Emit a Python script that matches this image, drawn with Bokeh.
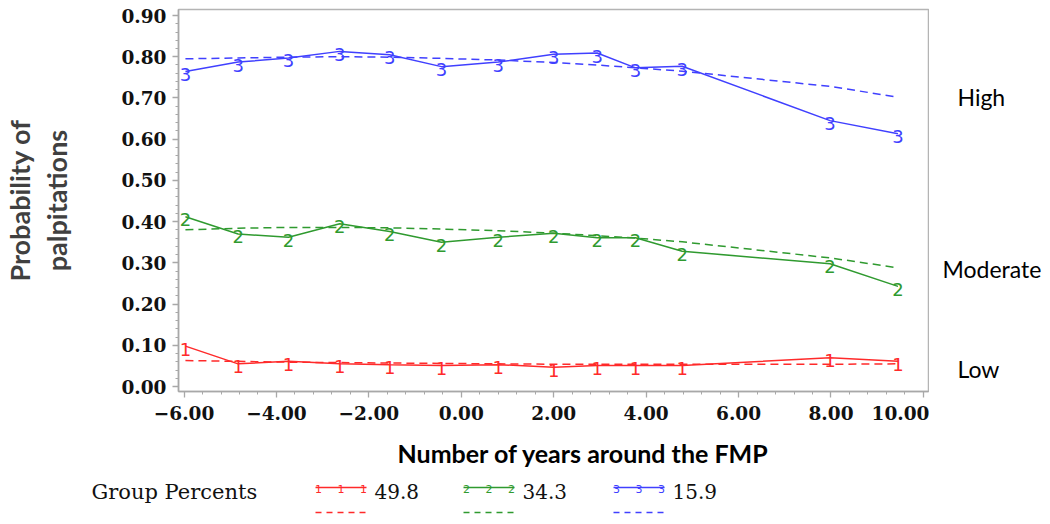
import numpy as np
from bokeh.plotting import figure
from bokeh.models import Range1d, FixedTicker, ColumnDataSource
from bokeh.layouts import column, row
from bokeh.embed import file_html
from bokeh.resources import INLINE
from bokeh.core.properties import value

# ---------------- data ----------------
x_years = [-5.97, -4.83, -3.74, -2.63, -1.55, -0.43, 0.80, 2.00, 2.94, 3.77, 4.78, 7.98, 9.45]

low_obs = [0.098, 0.055, 0.061, 0.055, 0.053, 0.051, 0.053, 0.047, 0.051, 0.051, 0.051, 0.070, 0.061]
low_fit = [0.063, 0.061, 0.059, 0.058, 0.057, 0.056, 0.055, 0.054, 0.054, 0.054, 0.054, 0.054, 0.055]

mod_obs = [0.412, 0.370, 0.362, 0.395, 0.376, 0.350, 0.362, 0.372, 0.361, 0.361, 0.328, 0.298, 0.243]
mod_fit = [0.380, 0.384, 0.386, 0.386, 0.385, 0.382, 0.378, 0.372, 0.366, 0.360, 0.351, 0.312, 0.288]

high_obs = [0.764, 0.787, 0.797, 0.813, 0.805, 0.776, 0.787, 0.806, 0.809, 0.773, 0.777, 0.645, 0.613]
high_fit = [0.795, 0.797, 0.799, 0.800, 0.799, 0.796, 0.792, 0.786, 0.780, 0.773, 0.765, 0.728, 0.702]

group_names = ["Low", "Moderate", "High"]
group_digits = ["1", "2", "3"]
group_percents = ["49.8", "34.3", "15.9"]
group_label_y = [0.042, 0.284, 0.703]
group_colors = ["#ff2a2a", "#2f9a2f", "#4040ff"]

x_ticks = [-6.0, -4.0, -2.0, 0.0, 2.0, 4.0, 6.0, 8.0, 10.0]
x_tick_labels = ["\u22126.00", "\u22124.00", "\u22122.00", "0.00", "2.00", "4.00", "6.00", "8.00", "10.00"]
y_ticks = [0.0, 0.1, 0.2, 0.3, 0.4, 0.5, 0.6, 0.7, 0.8, 0.9]
y_tick_labels = ["0.00", "0.10", "0.20", "0.30", "0.40", "0.50", "0.60", "0.70", "0.80", "0.90"]

x_title = "Number of years around the FMP"
y_title = "Probability of\npalpitations"
legend_title = "Group Percents"

obs_series = [low_obs, mod_obs, high_obs]
fit_series = [low_fit, mod_fit, high_fit]


def no_align(fig):
    try:
        fig.frame_align = False
    except Exception:
        pass


y_rng = Range1d(-0.0121, 0.9146)

# ---------------- main figure ----------------
p = figure(width=929, height=430,
           x_range=Range1d(-6.12, 10.11), y_range=y_rng,
           output_backend="svg", toolbar_location=None,
           min_border_left=178, min_border_right=1,
           min_border_top=9, min_border_bottom=39)
no_align(p)
p.grid.visible = False
p.outline_line_color = "#b4b4b4"
p.outline_line_width = 1.5

x_minor = [round(v, 2) for v in np.arange(-6.0, 10.001, 0.4)]
y_minor = [round(v, 3) for v in np.arange(0.0, 0.9001, 0.02)]
p.xaxis.ticker = FixedTicker(ticks=x_ticks, minor_ticks=x_minor)
p.yaxis.ticker = FixedTicker(ticks=y_ticks, minor_ticks=y_minor)
p.xaxis.major_label_overrides = {t: l for t, l in zip(x_ticks, x_tick_labels)}
p.yaxis.major_label_overrides = {t: l for t, l in zip(y_ticks, y_tick_labels)}

for ax in (p.xaxis, p.yaxis):
    ax.axis_line_color = "#a8a8a8"
    ax.axis_line_width = 1.5
    ax.major_tick_line_color = "#a8a8a8"
    ax.minor_tick_line_color = "#a8a8a8"
    ax.major_tick_line_width = 1.3
    ax.minor_tick_line_width = 1.0
    ax.major_tick_out = 6
    ax.major_tick_in = 0
    ax.minor_tick_out = 3
    ax.minor_tick_in = 0
    ax.major_label_text_font = "DejaVu Serif"
    ax.major_label_text_font_style = "bold"
    ax.major_label_text_font_size = "18.5px"
    ax.major_label_text_color = "#111111"

p.xaxis.major_label_standoff = 8
p.yaxis.major_label_standoff = 6

p.yaxis.axis_label = y_title
p.yaxis.axis_label_text_font = "Lato"
p.yaxis.axis_label_text_font_style = "bold"
p.yaxis.axis_label_text_font_size = "27px"
p.yaxis.axis_label_text_color = "#404040"
p.yaxis.axis_label_text_line_height = 1.13
p.yaxis.axis_label_standoff = 45

for obs, fit, col, dig in zip(obs_series, fit_series, group_colors, group_digits):
    src = ColumnDataSource(dict(x=x_years, obs=obs, fit=fit, t=[dig] * len(x_years)))
    p.line("x", "fit", source=src, line_color=col, line_width=1.5, line_dash="8 5")
    p.line("x", "obs", source=src, line_color=col, line_width=1.5)
    p.text("x", "obs", text="t", source=src, text_color=col,
           text_font=value("DejaVu Sans"), text_font_size="18px",
           text_align="center", text_baseline="middle", y_offset=3)

# ---------------- right-hand group names ----------------
side = figure(width=121, height=430, x_range=Range1d(0, 121), y_range=y_rng,
              output_backend="svg", toolbar_location=None,
              x_axis_location=None, y_axis_location=None,
              min_border_left=0, min_border_right=0,
              min_border_top=9, min_border_bottom=39)
no_align(side)
side.grid.visible = False
side.outline_line_color = None
name_x = [28, 13, 28]
side.text(x=name_x, y=group_label_y, text=group_names, text_font=value("Lato"),
          text_font_size="23px", text_color="#000000",
          text_align="left", text_baseline="middle")

# ---------------- bottom strip: x title + legend ----------------
lg = figure(width=1050, height=94, x_range=Range1d(0, 1050), y_range=Range1d(94, 0),
            output_backend="svg", toolbar_location=None,
            x_axis_location=None, y_axis_location=None, min_border=0)
no_align(lg)
lg.grid.visible = False
lg.outline_line_color = None

lg.text(x=[397], y=[22], text=[x_title], text_font=value("Lato"), text_font_style="bold",
        text_font_size="25px", text_color="#000000", text_baseline="middle", text_align="left")

lg.text(x=[91], y=[61], text=[legend_title], text_font=value("DejaVu Serif"),
        text_font_size="21px", text_color="#111111", text_baseline="middle", text_align="left")

item_x0 = [315, 463, 613]
seg = 51
for x0, col, dig, pct in zip(item_x0, group_colors, group_digits, group_percents):
    lg.line([x0, x0 + seg], [57, 57], line_color=col, line_width=1.5)
    lg.line([x0, x0 + seg], [82, 82], line_color=col, line_width=1.5, line_dash="6 5")
    lg.text(x=[x0 + 3, x0 + seg / 2, x0 + seg - 3], y=[58, 58, 58], text=[dig] * 3,
            text_font=value("DejaVu Sans"), text_font_size="11px", text_color=col,
            text_align="center", text_baseline="middle")
    lg.text(x=[x0 + seg + 8], y=[61], text=[pct], text_font=value("DejaVu Serif"),
            text_font_size="20px", text_color="#111111", text_baseline="middle", text_align="left")

layout = column(row(p, side, spacing=0), lg, spacing=0)
open("out.html", "w").write(file_html(layout, INLINE))
